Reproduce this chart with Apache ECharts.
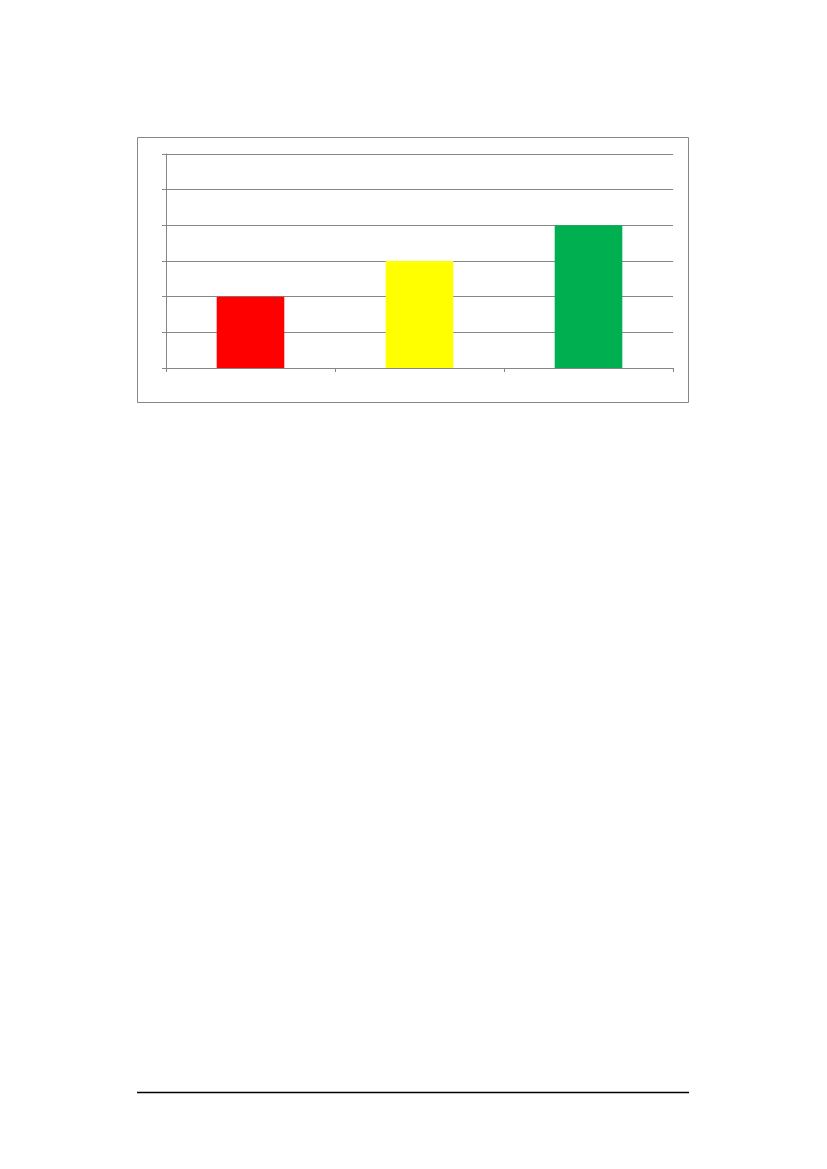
<!DOCTYPE html>
<html>
<head>
<meta charset="utf-8">
<script src="https://cdn.jsdelivr.net/npm/echarts@6/dist/echarts.min.js"></script>
<style>
  html, body { margin: 0; padding: 0; background: #fff; }
  #main { width: 827px; height: 1169px; }
</style>
</head>
<body>
<div id="main"></div>
<script>
// data
var categories = ['1', '2', '3'];
var values = [2, 3, 4];
var barColors = ['#FF0000', '#FFFF00', '#00B050'];
var yMin = 0, yMax = 6, yStep = 1;

var chart = echarts.init(document.getElementById('main'));
var gray = '#868686';

chart.setOption({
    animation: false,
    grid: { left: 166, top: 154, width: 507, height: 214 },
    graphic: [
        {
            type: 'rect',
            shape: { x: 137.5, y: 137.5, width: 551, height: 265 },
            style: { fill: 'none', stroke: gray, lineWidth: 1 }
        },
        {
            type: 'line',
            shape: { x1: 137, y1: 1092.5, x2: 689, y2: 1092.5 },
            style: { stroke: '#000', lineWidth: 1.3 }
        }
    ],
    xAxis: {
        type: 'category',
        data: categories,
        axisLine: { lineStyle: { color: gray, width: 1 } },
        axisTick: { show: true, length: 4, lineStyle: { color: gray } },
        axisLabel: { show: false }
    },
    yAxis: {
        type: 'value',
        min: yMin,
        max: yMax,
        interval: yStep,
        axisLine: { show: true, lineStyle: { color: gray, width: 1 } },
        axisTick: { show: true, length: 4, lineStyle: { color: gray } },
        axisLabel: { show: false },
        splitLine: { lineStyle: { color: gray, width: 1 } }
    },
    series: [{
        type: 'bar',
        barWidth: '40%',
        data: values.map(function (v, i) {
            return { value: v, itemStyle: { color: barColors[i] } };
        })
    }]
});
</script>
</body>
</html>
